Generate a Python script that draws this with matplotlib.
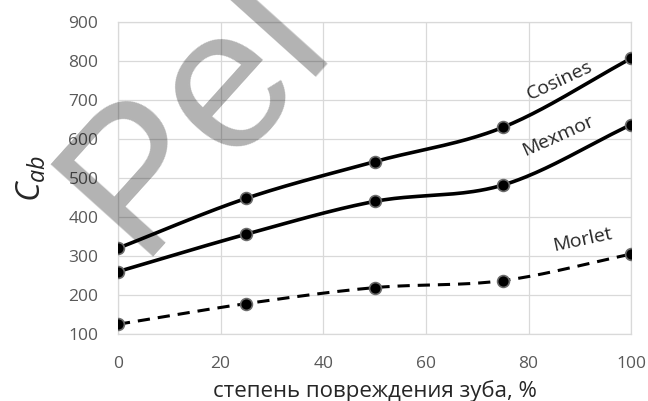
import numpy as np
import matplotlib.pyplot as plt

plt.rcParams['font.family'] = ['Open Sans', 'DejaVu Sans']
plt.rcParams['mathtext.fontset'] = 'custom'
plt.rcParams['mathtext.it'] = 'Open Sans:italic'
plt.rcParams['mathtext.rm'] = 'Open Sans'

damage = [0, 25, 50, 75, 100]
cosines = [320, 448, 542, 630, 807]
mexmor = [260, 356, 440, 482, 637]
morlet = [125, 178, 219, 237, 305]


def smooth(x, y, n=40):
    # Catmull-Rom style bezier through the points (like Excel "smoothed line")
    x = np.asarray(x, float)
    y = np.asarray(y, float)
    px = np.concatenate([[2 * x[0] - x[1]], x, [2 * x[-1] - x[-2]]])
    py = np.concatenate([[2 * y[0] - y[1]], y, [2 * y[-1] - y[-2]]])
    xs, ys = [], []
    t = np.linspace(0, 1, n)
    for i in range(1, len(px) - 2):
        p0 = np.array([px[i], py[i]])
        p3 = np.array([px[i + 1], py[i + 1]])
        c1 = p0 + (np.array([px[i + 1], py[i + 1]]) - np.array([px[i - 1], py[i - 1]])) / 6
        c2 = p3 - (np.array([px[i + 2], py[i + 2]]) - p0) / 6
        b = ((1 - t) ** 3)[:, None] * p0 + (3 * (1 - t) ** 2 * t)[:, None] * c1 \
            + (3 * (1 - t) * t ** 2)[:, None] * c2 + (t ** 3)[:, None] * p3
        xs.extend(b[:, 0])
        ys.extend(b[:, 1])
    return xs, ys


fig = plt.figure(figsize=(6.48, 4.01), dpi=100)
ax = fig.add_axes([0.182, 0.167, 0.792, 0.778])

for vals, ls in [(cosines, '-'), (mexmor, '-'), (morlet, '--')]:
    sx, sy = smooth(damage, vals)
    if ls == '-':
        ax.plot(sx, sy, color='black', lw=2.6, solid_capstyle='round', zorder=3)
    else:
        ax.plot(sx, sy, color='black', lw=2.2, dashes=(4, 2.6), zorder=3)
    ax.plot(damage, vals, 'o', color='black', ms=8.5, mec='#6b6b6b', mew=1.2, zorder=4)

ax.set_xlim(0, 100)
ax.set_ylim(100, 900)
ax.set_xticks(range(0, 101, 20))
ax.set_yticks(range(100, 901, 100))
ax.grid(color='#d9d9d9', lw=0.9)
ax.set_axisbelow(True)
ax.tick_params(length=0, labelsize=12.5, labelcolor='#595959')
ax.tick_params(axis='x', pad=16)
ax.tick_params(axis='y', pad=14)
for s in ax.spines.values():
    s.set_color('#d9d9d9')
    s.set_linewidth(0.9)

ax.set_xlabel('степень повреждения зуба, %', fontsize=16, color='#262626', labelpad=6)
ax.set_ylabel('$C_{ab}$', fontsize=24, color='#262626', labelpad=14)

# curve names
ax.text(86, 751, 'Cosines', fontsize=14, rotation=25, ha='center', va='center', color='#262626')
ax.text(85.8, 608, 'Mexmor', fontsize=14, rotation=24, ha='center', va='center', color='#262626')
ax.text(90.6, 341, 'Morlet', fontsize=14, rotation=12, ha='center', va='center', color='#262626')

# watermark
fig.text(0.212, 0.36, 'Pel', fontsize=145, family='Liberation Sans', rotation=48,
         rotation_mode='anchor', ha='left', va='baseline', color='black', alpha=0.3, zorder=10)

fig.savefig('out.png', dpi=100)
